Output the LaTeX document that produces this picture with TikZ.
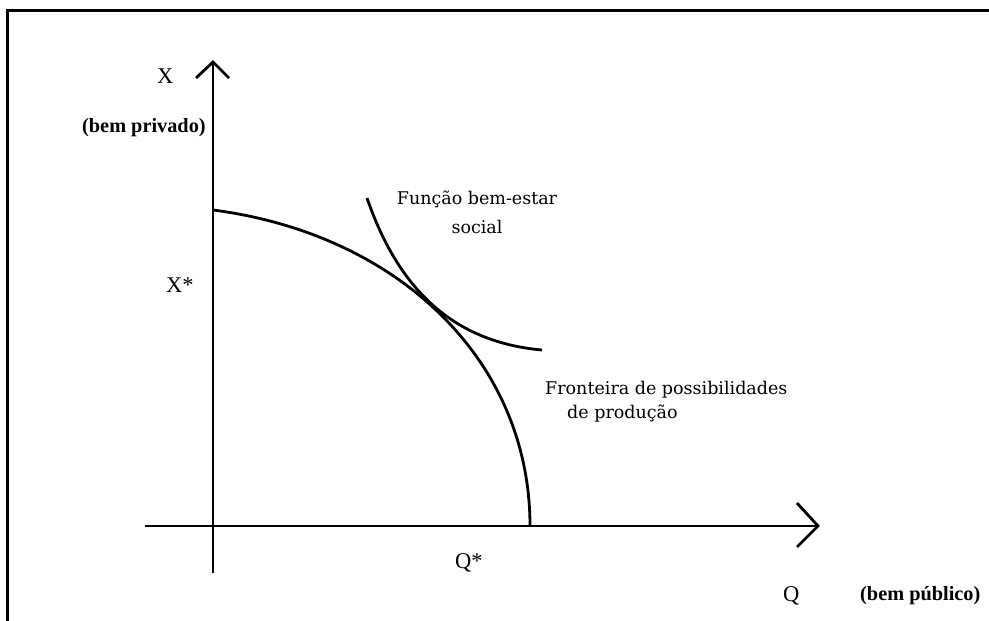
\documentclass[tikz,border=0pt]{standalone}
\usepackage{fontspec}
\setmainfont{Liberation Serif}
\newfontfamily\slab{DejaVu Serif}
\begin{document}
\begin{tikzpicture}[x=1pt,y=-1pt,
  axis/.style={line width=2.8pt},
  curve/.style={line width=2.8pt},
  frameline/.style={line width=2.8pt},
  lab/.style={inner sep=0pt,anchor=base west,font=\fontsize{22.5}{24}\selectfont},
  blab/.style={inner sep=0pt,anchor=base west,font=\fontsize{20.3}{22}\selectfont\bfseries},
  slabtxt/.style={inner sep=0pt,anchor=base west,font=\fontsize{17.5}{24}\selectfont\slab}]
\useasboundingbox (0,0) rectangle (989,621);
% frame (top and left edges)
\draw[frameline] (989,10.5) -- (7.3,10.5) -- (7.3,621);
% axes
\coordinate (O) at (213,526);
\coordinate (ytop) at (213,62);
\coordinate (ybot) at (213,573);
\coordinate (xl) at (145,526);
\coordinate (xr) at (818,526);
\draw[axis] (ybot) -- (ytop);
\draw[axis] (xl) -- (xr);
\draw[axis,line join=miter] (196,78) -- (ytop) -- (229,78);
\draw[axis,line join=miter] (797,503) -- (xr) -- (797,547);
% production possibilities frontier
\coordinate (ppfA) at (213,210);
\coordinate (ppfB) at (530,526);
\draw[curve] (ppfA) .. controls (398,234) and (530,360) .. (ppfB);
% social welfare function
\coordinate (swA) at (367,198);
\coordinate (swB) at (542,350);
\draw[curve] (swA) .. controls (398,288) and (452,342) .. (swB);
% labels
\node[lab] (X) at (157,83) {X};
\node[blab] (bp) at (82,132) {(bem privado)};
\node[lab] (Xs) at (166,292) {X*};
\node[lab] (Qs) at (455,568) {Q*};
\node[lab] (Q) at (783,601) {Q};
\node[blab] (bpub) at (860,600) {(bem público)};
\node[slabtxt,anchor=base,align=center] (swf) at (477,233) {Função bem-estar\\[5pt]social};
\node[slabtxt,align=left] (fpp) at (545,418) {Fronteira de possibilidades\\\hspace*{22pt}de produção};
\end{tikzpicture}
\end{document}
